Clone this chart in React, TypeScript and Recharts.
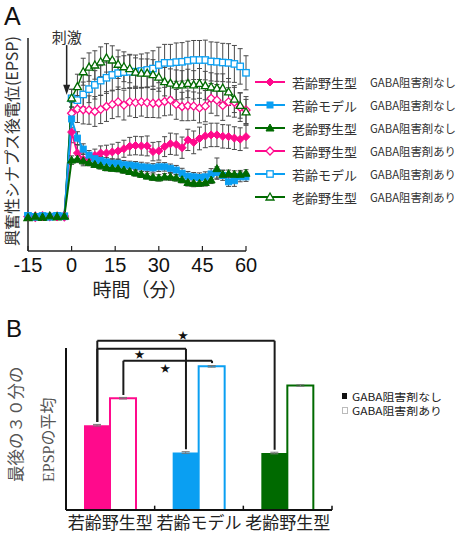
import React from "react";
import {
  LineChart,
  Line,
  XAxis,
  YAxis,
  ErrorBar,
  ReferenceLine,
  ReferenceDot,
  BarChart,
  Bar,
  Cell,
} from "recharts";

const JP = "'Noto Sans CJK JP', sans-serif";
const LATIN = "'Liberation Sans', Arial, sans-serif";
const SERIF_JP = "'Liberation Serif', 'Noto Sans CJK JP', serif";

const PINK = "#ff0a8c";
const BLUE = "#0a9ff2";
const GREEN = "#006a00";

// minutes relative to the stimulus
const minutes = [-15, -12.5, -10, -7.5, -5, -2.5, 0, 2, 4, 6, 8, 10, 12, 14, 16, 18, 20, 22, 24, 26, 28, 30, 32, 34, 36, 38, 40, 42, 44, 46, 48, 50, 52, 54, 56, 58, 60];

// EPSP, % of baseline (mean / sem)
const ywNone = [96, 99, 97, 98, 96, 99, 335, 276, 258, 260, 269, 276, 276, 279, 282, 288, 295, 297, 296, 296, 280, 282, 294, 302, 300, 291, 313, 306, 317, 324, 327, 327, 323, 322, 318, 315, 322];
const ymNone = [98, 97, 99, 96, 98, 97, 372, 318, 287, 270, 260, 255, 251, 247, 247, 243, 242, 240, 237, 236, 234, 237, 237, 233, 228, 219, 211, 209, 207, 209, 217, 221, 213, 195, 198, 209, 209];
const omNone = [95, 98, 96, 99, 97, 98, 256, 259, 254, 249, 244, 240, 235, 233, 232, 228, 224, 220, 216, 211, 208, 206, 209, 209, 206, 201, 193, 191, 191, 193, 200, 232, 216, 218, 216, 216, 219];
const ywBlock = [97, 95, 99, 97, 98, 96, 388, 400, 398, 397, 393, 399, 407, 413, 420, 411, 420, 418, 420, 418, 416, 417, 421, 425, 413, 407, 409, 408, 403, 408, 430, 425, 410, 420, 419, 405, 397];
const ymBlock = [99, 96, 98, 97, 99, 98, 430, 425, 441, 456, 468, 480, 488, 496, 501, 504, 505, 505, 507, 510, 514, 524, 530, 530, 532, 533, 536, 538, 538, 538, 534, 533, 531, 530, 527, 520, 502];
const omBlock = [94, 97, 95, 98, 96, 99, 431, 463, 505, 518, 524, 533, 544, 538, 526, 519, 514, 504, 501, 501, 497, 490, 477, 473, 468, 468, 472, 468, 472, 466, 462, 459, 459, 448, 428, 410, 392];

const ywNoneErr = [4, 3, 4, 3, 4, 3, 30, 22, 18, 16, 18, 20, 22, 22, 24, 24, 25, 26, 26, 28, 26, 26, 28, 30, 30, 30, 30, 32, 32, 33, 33, 33, 33, 33, 32, 32, 32];
const ymNoneErr = [3, 4, 3, 4, 3, 4, 25, 18, 15, 13, 12, 11, 12, 13, 12, 12, 11, 12, 13, 12, 12, 13, 12, 12, 13, 14, 13, 12, 13, 14, 15, 16, 14, 13, 16, 14, 13];
const omNoneErr = [3, 3, 4, 3, 3, 4, 12, 10, 9, 9, 8, 9, 9, 8, 9, 9, 8, 9, 9, 8, 9, 9, 9, 10, 9, 9, 10, 10, 9, 10, 10, 30, 12, 10, 10, 11, 10];
const ywBlockErr = [4, 3, 4, 4, 3, 4, 30, 38, 40, 40, 42, 40, 42, 40, 42, 42, 40, 42, 40, 42, 40, 42, 40, 42, 42, 40, 42, 40, 42, 44, 42, 44, 42, 40, 42, 40, 38];
const ymBlockErr = [4, 3, 4, 3, 4, 3, 25, 30, 35, 38, 40, 42, 44, 45, 46, 46, 47, 47, 48, 48, 50, 50, 52, 52, 54, 54, 55, 55, 55, 56, 55, 55, 54, 54, 52, 50, 48];
const omBlockErr = [4, 3, 4, 3, 4, 3, 25, 35, 38, 40, 40, 42, 40, 40, 40, 42, 40, 40, 40, 40, 42, 40, 40, 40, 42, 40, 40, 40, 42, 40, 40, 40, 40, 38, 38, 36, 35];

const timeTicks = [-15, 0, 15, 30, 45, 60];
const epspTicks = [0, 100, 200, 300, 400, 500, 600];

// mean EPSP over the last 30 min
const groups = ["若齢野生型", "若齢モデル", "老齢野生型"];
const groupSlots = [0.5, 1.5, 2.5];
const groupEdges = [1, 2, 3];
const meanNone = [314, 213, 211];
const meanBlock = [414, 532, 461];
const semNone = [3, 3, 3];
const semBlock = [3, 3, 3];

type Kind = "none" | "block";
const sigPairs: { a: number; aKind: Kind; b: number; bKind: Kind; top: number; starX: number; starY: number }[] = [
  { a: 0, aKind: "none", b: 2, bKind: "none", top: 627, starX: 1.32, starY: 650 },
  { a: 0, aKind: "none", b: 1, bKind: "none", top: 597, starX: 0.83, starY: 579 },
  { a: 0, aKind: "block", b: 1, bKind: "block", top: 553, starX: 1.12, starY: 527 },
];

type Shape = "diamond" | "square" | "triangle";
type Series = { key: string; values: number[]; err: number[]; color: string; shape: Shape; filled: boolean; group: string; drug: string };

const series: Series[] = [
  { key: "ywNone", values: ywNone, err: ywNoneErr, color: PINK, shape: "diamond", filled: true, group: "若齢野生型", drug: "GABA阻害剤なし" },
  { key: "ymNone", values: ymNone, err: ymNoneErr, color: BLUE, shape: "square", filled: true, group: "若齢モデル", drug: "GABA阻害剤なし" },
  { key: "omNone", values: omNone, err: omNoneErr, color: GREEN, shape: "triangle", filled: true, group: "老齢野生型", drug: "GABA阻害剤なし" },
  { key: "ywBlock", values: ywBlock, err: ywBlockErr, color: PINK, shape: "diamond", filled: false, group: "若齢野生型", drug: "GABA阻害剤あり" },
  { key: "ymBlock", values: ymBlock, err: ymBlockErr, color: BLUE, shape: "square", filled: false, group: "若齢モデル", drug: "GABA阻害剤あり" },
  { key: "omBlock", values: omBlock, err: omBlockErr, color: GREEN, shape: "triangle", filled: false, group: "老齢野生型", drug: "GABA阻害剤あり" },
];

// open symbols go underneath the filled ones
const drawOrder = [...series.filter((s) => !s.filled), ...series.filter((s) => s.filled)];

const timeRows = minutes.map((t, i) => {
  const row: Record<string, number> = { t };
  series.forEach((s) => {
    row[s.key] = s.values[i];
    row[s.key + "Err"] = s.err[i];
  });
  return row;
});

const groupColors = [PINK, BLUE, GREEN];
const groupRows = groups.map((g, i) => ({
  slot: groupSlots[i],
  group: g,
  none: meanNone[i],
  block: meanBlock[i],
  noneErr: semNone[i],
  blockErr: semBlock[i],
}));

function Marker({ cx, cy, shape, color, filled }: { cx: number; cy: number; shape: Shape; color: string; filled: boolean }) {
  const fill = filled ? color : "#fff";
  const sw = filled ? 1 : 1.3;
  if (shape === "square") {
    const s = filled ? 3 : 3.2;
    return <rect x={cx - s} y={cy - s} width={s * 2} height={s * 2} fill={fill} stroke={color} strokeWidth={sw} />;
  }
  if (shape === "diamond") {
    const s = 4;
    return <polygon points={`${cx},${cy - s} ${cx + s},${cy} ${cx},${cy + s} ${cx - s},${cy}`} fill={fill} stroke={color} strokeWidth={sw} />;
  }
  const s = 4;
  return <polygon points={`${cx},${cy - s} ${cx + s},${cy + s * 0.75} ${cx - s},${cy + s * 0.75}`} fill={fill} stroke={color} strokeWidth={sw} />;
}

const StimArrow = (p: any) => {
  const { x1, y1, x2, y2 } = p;
  return (
    <g>
      <line x1={x1} y1={y1} x2={x2} y2={y2 - 8} stroke="#222" strokeWidth={1.5} />
      <polygon points={`${x2 - 3.5},${y2 - 10} ${x2 + 3.5},${y2 - 10} ${x2},${y2}`} fill="#222" />
      <text x={x1} y={y1 - 9} textAnchor="middle" dominantBaseline="central" fontSize={15} fontFamily={JP} fill="#333">
        刺激
      </text>
    </g>
  );
};

const BAR_HALF = 0.147; // half a bar, in slot units
const barCenter = (g: number, kind: Kind) => groupSlots[g] + (kind === "none" ? -BAR_HALF : BAR_HALF);
const legFoot = (g: number, kind: Kind) => (kind === "none" ? meanNone[g] : meanBlock[g]) + 12;

const bracketLines = sigPairs.flatMap((b, i) => {
  const xa = barCenter(b.a, b.aKind);
  const xb = barCenter(b.b, b.bKind);
  const common = { ifOverflow: "visible" as const, stroke: "#1a1a1a", strokeWidth: 2 };
  return [
    <ReferenceLine key={`h${i}`} {...common} segment={[{ x: xa, y: b.top }, { x: xb, y: b.top }]} />,
    <ReferenceLine key={`l${i}`} {...common} segment={[{ x: xa, y: b.top }, { x: xa, y: legFoot(b.a, b.aKind) }]} />,
    <ReferenceLine key={`r${i}`} {...common} segment={[{ x: xb, y: b.top }, { x: xb, y: legFoot(b.b, b.bKind) }]} />,
    <ReferenceDot
      key={`s${i}`}
      x={b.starX}
      y={b.starY}
      r={0}
      ifOverflow="visible"
      shape={(p: any) => (
        <text x={p.cx} y={p.cy} textAnchor="middle" dominantBaseline="central" fontSize={10} fontFamily={JP} fill="#111">
          ★
        </text>
      )}
    />,
  ];
});

export default function App() {
  return (
    <div style={{ position: "absolute", left: 0, top: 0, width: 461, height: 539, background: "#fff", fontFamily: JP }}>
      <div style={{ position: "absolute", left: 0, top: 0 }}>
        <LineChart width={461} height={305} data={timeRows} margin={{ top: 38, right: 215, bottom: 24, left: 0 }}>
          <XAxis
            dataKey="t"
            type="number"
            domain={[-15, 60]}
            ticks={timeTicks}
            height={30}
            tickSize={-5}
            tickMargin={12}
            axisLine={{ stroke: "#222", strokeWidth: 1.5 }}
            tickLine={{ stroke: "#222", strokeWidth: 1.2 }}
            tick={{ fill: "#111", fontSize: 20, fontFamily: LATIN }}
            label={{ value: "時間（分）", position: "bottom", offset: 3, dx: 3, fontSize: 19, fill: "#222", fontFamily: JP }}
          />
          <YAxis
            type="number"
            domain={[0, 600]}
            ticks={epspTicks}
            width={28}
            tickSize={-5}
            tick={false}
            axisLine={{ stroke: "#222", strokeWidth: 1.5 }}
            tickLine={{ stroke: "#222", strokeWidth: 1.2 }}
          />
          <ReferenceLine segment={[{ x: -1.7, y: 580 }, { x: -1.7, y: 440 }]} ifOverflow="visible" shape={StimArrow} />
          {drawOrder.map((s) => (
            <Line
              key={s.key}
              type="linear"
              dataKey={s.key}
              stroke={s.color}
              strokeWidth={s.filled ? 2 : 1.4}
              isAnimationActive={false}
              activeDot={false}
              dot={(p: any) => <Marker key={`${s.key}-${p.index}`} cx={p.cx} cy={p.cy} shape={s.shape} color={s.color} filled={s.filled} />}
            >
              <ErrorBar dataKey={s.key + "Err"} direction="y" width={2.5} stroke="#4a4a4a" strokeWidth={1} />
            </Line>
          ))}
        </LineChart>
      </div>

      <div style={{ position: "absolute", left: 0, top: 300 }}>
        <BarChart width={461} height={239} data={groupRows} margin={{ top: 48, right: 129, bottom: 0, left: 0 }} barGap={0}>
          <XAxis
            dataKey="slot"
            type="number"
            domain={[0, 3]}
            ticks={groupSlots}
            tickFormatter={(_v: number, i: number) => groups[i]}
            height={29}
            interval={0}
            tickLine={false}
            tickSize={6}
            tickMargin={1}
            axisLine={{ stroke: "#111", strokeWidth: 2 }}
            tick={{ fill: "#222", fontSize: 17, fontFamily: JP }}
          />
          <YAxis
            domain={[0, 600]}
            ticks={epspTicks}
            width={66}
            tickSize={-4}
            tick={false}
            axisLine={{ stroke: "#111", strokeWidth: 2 }}
            tickLine={{ stroke: "#111", strokeWidth: 1.5 }}
          />
          <Bar dataKey="none" barSize={26} isAnimationActive={false}>
            {groups.map((g, i) => (
              <Cell key={g} fill={groupColors[i]} />
            ))}
            <ErrorBar dataKey="noneErr" width={4} stroke="#777" strokeWidth={1} />
          </Bar>
          <Bar dataKey="block" barSize={26} fill="#fff" strokeWidth={2} isAnimationActive={false}>
            {groups.map((g, i) => (
              <Cell key={g} fill="#fff" stroke={groupColors[i]} />
            ))}
            <ErrorBar dataKey="blockErr" width={4} stroke="#777" strokeWidth={1} />
          </Bar>
          {groupEdges.map((x) => (
            <ReferenceLine key={`edge${x}`} segment={[{ x, y: 0 }, { x, y: 16 }]} stroke="#111" strokeWidth={1.5} />
          ))}
          {bracketLines}
        </BarChart>
      </div>

      <svg width={461} height={539} style={{ position: "absolute", left: 0, top: 0, pointerEvents: "none" }}>
        <text x={4} y={25} fontSize={25} fontFamily={LATIN} fill="#111">A</text>
        <text x={6} y={337} fontSize={24} fontFamily={LATIN} fill="#111">B</text>
        <text x={11} y={141} transform="rotate(-90 11 141)" textAnchor="middle" dominantBaseline="central" fontSize={16} fontFamily={JP} fill="#333">
          興奮性シナプス後電位(EPSP)
        </text>

        {series.map((s, i) => {
          const y = 82 + i * 23;
          return (
            <g key={s.key}>
              <line x1={255} y1={y} x2={285} y2={y} stroke={s.color} strokeWidth={2} />
              <Marker cx={270} cy={y} shape={s.shape} color={s.color} filled={s.filled} />
              <text x={292} y={y} dominantBaseline="central" fontSize={13} fontFamily={JP} fill="#333">{s.group}</text>
              <text x={370} y={y} dominantBaseline="central" fontSize={11.5} fontFamily={JP} fill="#333" textLength={86} lengthAdjust="spacingAndGlyphs">
                {s.drug}
              </text>
            </g>
          );
        })}

        <text x={15} y={482} transform="rotate(-90 15 482)" dominantBaseline="central" fontSize={16.5} fontFamily={JP} fill="#555">
          最後の３０分の
        </text>
        <text x={48} y={482} transform="rotate(-90 48 482)" dominantBaseline="central" fontSize={16} fontFamily={SERIF_JP} fill="#555">
          EPSPの平均
        </text>

        <rect x={342} y={393} width={5} height={6} fill="#111" />
        <text x={352} y={396} dominantBaseline="central" fontSize={10.5} fontFamily={JP} fill="#222" textLength={90} lengthAdjust="spacingAndGlyphs">
          GABA阻害剤なし
        </text>
        <rect x={342.5} y={407.5} width={5} height={6} fill="#fff" stroke="#bbb" />
        <text x={352} y={410.5} dominantBaseline="central" fontSize={10.5} fontFamily={JP} fill="#222" textLength={90} lengthAdjust="spacingAndGlyphs">
          GABA阻害剤あり
        </text>
      </svg>
    </div>
  );
}
